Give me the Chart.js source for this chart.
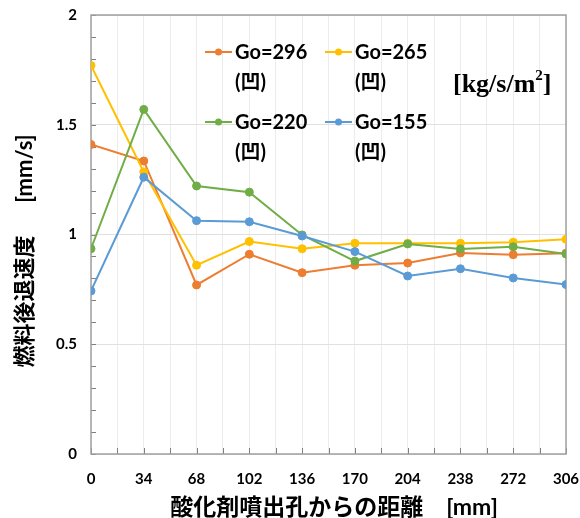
<!DOCTYPE html>
<html>
<head>
<meta charset="utf-8">
<script src="https://cdn.jsdelivr.net/npm/chart.js@4.4.1/dist/chart.umd.min.js"></script>
<style>
  html, body { margin: 0; padding: 0; background: #fff; overflow: hidden; }
  #wrap { width: 580px; height: 518px; }
</style>
</head>
<body>
<div id="wrap"><canvas id="chart"></canvas></div>
<script>
// data
const distances = [0, 34, 68, 102, 136, 170, 204, 238, 272, 306];
const go296 = [1.41, 1.335, 0.77, 0.91, 0.826, 0.86, 0.87, 0.916, 0.908, 0.915];
const go265 = [1.77, 1.285, 0.86, 0.968, 0.935, 0.96, 0.96, 0.96, 0.965, 0.978];
const go220 = [0.935, 1.57, 1.221, 1.193, 0.998, 0.879, 0.957, 0.934, 0.944, 0.911];
const go155 = [0.743, 1.261, 1.063, 1.058, 0.993, 0.922, 0.811, 0.844, 0.802, 0.772];
const seriesNames = ['Go=296', 'Go=265', 'Go=220', 'Go=155'];
const seriesNote = '(凹)';
const unitLabel = '[kg/s/m';

const colors = ['#ED7D31', '#FFC000', '#70AD47', '#5B9BD5'];
const latin = '"Lato", "Noto Sans CJK JP", sans-serif';
const clear = 'rgba(0,0,0,0)';

// legend layout (2 x 2 inside the plot)
const legendCols = [205, 325];
const legendRows = [52, 122];

const frame = {
  id: 'frame',
  beforeDatasetsDraw(chart) {
    const { ctx, chartArea: a, scales: { x, y } } = chart;
    ctx.save();
    ctx.strokeStyle = '#7f7f7f';
    ctx.lineWidth = 1;
    ctx.beginPath();
    y.ticks.forEach(t => {
      const p = Math.round(y.getPixelForValue(t.value)) + 0.5;
      ctx.moveTo(a.left, p); ctx.lineTo(a.left + 5, p);
    });
    x.ticks.forEach(t => {
      const p = Math.round(x.getPixelForValue(t.value)) + 0.5;
      ctx.moveTo(p, a.bottom); ctx.lineTo(p, a.bottom - 6);
    });
    ctx.stroke();
    ctx.strokeStyle = '#a0a0a0';
    ctx.lineWidth = 1.5;
    ctx.strokeRect(a.left, a.top, a.right - a.left, a.bottom - a.top);
    ctx.restore();
  }
};

const boxLegend = {
  id: 'boxLegend',
  afterDatasetsDraw(chart) {
    const ctx = chart.ctx;
    ctx.save();
    chart.data.datasets.forEach((ds, i) => {
      const x0 = legendCols[i % 2];
      const y0 = legendRows[Math.floor(i / 2)];
      ctx.strokeStyle = ds.borderColor;
      ctx.lineWidth = 2;
      ctx.beginPath();
      ctx.moveTo(x0, y0); ctx.lineTo(x0 + 27, y0);
      ctx.stroke();
      ctx.fillStyle = ds.borderColor;
      ctx.beginPath();
      ctx.arc(x0 + 13.5, y0, 3.5, 0, Math.PI * 2);
      ctx.fill();
      ctx.fillStyle = '#000';
      ctx.font = 'bold 20px ' + latin;
      ctx.textBaseline = 'middle';
      ctx.textAlign = 'left';
      ctx.fillText(ds.label, x0 + 30, y0 + 1);
      ctx.fillText(seriesNote, x0 + 30, y0 + 31);
    });
    ctx.font = 'bold 26px "Liberation Serif"';
    ctx.textBaseline = 'alphabetic';
    ctx.fillText(unitLabel, 453, 92);
    let w = ctx.measureText(unitLabel).width;
    ctx.font = 'bold 15px "Liberation Serif"';
    ctx.fillText('2', 453 + w, 80);
    w += ctx.measureText('2').width;
    ctx.font = 'bold 26px "Liberation Serif"';
    ctx.fillText(']', 453 + w, 92);
    ctx.restore();
  }
};

const seriesValues = [go296, go265, go220, go155];

new Chart(document.getElementById('chart'), {
  type: 'line',
  data: {
    datasets: seriesValues.map((vals, i) => ({
      label: seriesNames[i],
      data: distances.map((d, j) => ({ x: d, y: vals[j] })),
      borderColor: colors[i],
      backgroundColor: colors[i],
      pointBackgroundColor: colors[i],
      pointBorderColor: colors[i],
      pointRadius: 4,
      pointBorderWidth: 1,
      borderWidth: 2,
      tension: 0,
      order: 4 - i
    }))
  },
  options: {
    responsive: true,
    maintainAspectRatio: false,
    animation: false,
    layout: { padding: { top: 15, right: 14, left: 0, bottom: 0 } },
    plugins: { legend: { display: false }, tooltip: { enabled: false } },
    scales: {
      x: {
        type: 'linear',
        min: 0,
        max: 306,
        afterFit: s => { s.height = 64; },
        border: { display: false },
        grid: { color: '#ececec', lineWidth: 1, drawTicks: true, tickLength: 16, tickColor: clear },
        ticks: {
          stepSize: 17,
          maxTicksLimit: 100,
          autoSkip: false,
          maxRotation: 0,
          padding: 0,
          color: '#000',
          font: { family: latin, size: 15, weight: 'bold' },
          callback: v => (v % 34 === 0 ? String(v) : '')
        },
        title: {
          display: true,
          text: '  酸化剤噴出孔からの距離　[mm]',
          color: '#000',
          font: { family: latin, size: 23, weight: 'bold' },
          padding: { top: 0, bottom: -3 }
        }
      },
      y: {
        min: 0,
        max: 2,
        afterFit: s => { s.width = 91; },
        border: { display: false },
        grid: {
          drawTicks: true,
          tickLength: 14,
          tickColor: clear,
          color: c => (Math.abs(c.tick.value * 2 - Math.round(c.tick.value * 2)) < 1e-6 ? '#e0e0e0' : clear)
        },
        ticks: {
          stepSize: 0.1,
          maxTicksLimit: 100,
          autoSkip: false,
          padding: 0,
          color: '#000',
          font: { family: latin, size: 15, weight: 'bold' },
          callback: v => (Math.abs(v * 2 - Math.round(v * 2)) < 1e-6 ? String(Math.round(v * 2) / 2) : '')
        },
        title: {
          display: true,
          text: '燃料後退速度　  [mm/s]　  ',
          color: '#000',
          font: { family: latin, size: 22, weight: 'bold' },
          padding: { top: 12, bottom: 0 }
        }
      }
    }
  },
  plugins: [frame, boxLegend]
});
</script>
</body>
</html>
